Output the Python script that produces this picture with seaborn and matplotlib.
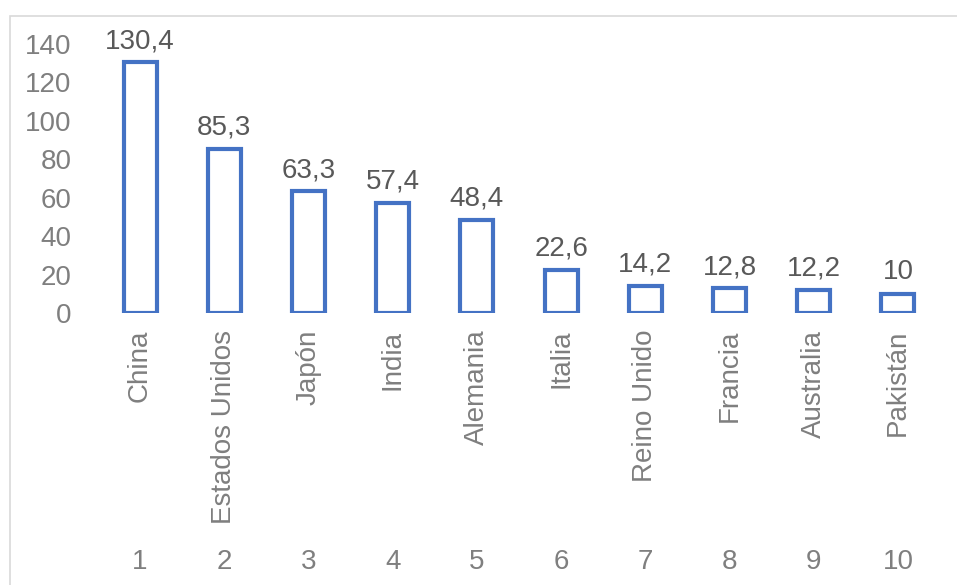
import matplotlib
matplotlib.use("Agg")
import matplotlib.pyplot as plt
import matplotlib.transforms as mtransforms
from matplotlib.patches import Rectangle
import seaborn as sns
import pandas as pd

countries = ["China", "Estados Unidos", "Japón", "India", "Alemania", "Italia",
             "Reino Unido", "Francia", "Australia", "Pakistán"]
values = [130.4, 85.3, 63.3, 57.4, 48.4, 22.6, 14.2, 12.8, 12.2, 10]
ranks = ["1", "2", "3", "4", "5", "6", "7", "8", "9", "10"]
yticks = [0, 20, 40, 60, 80, 100, 120, 140]

sns.set_theme(style="white")
plt.rcParams["font.family"] = ["Liberation Sans", "DejaVu Sans"]

W, H = 957, 585
fig = plt.figure(figsize=(W / 100, H / 100), dpi=100)
left, right, top, bottom = 98, 940, 44, 313
ax = fig.add_axes([left / W, 1 - bottom / H, (right - left) / W, (bottom - top) / H])

df = pd.DataFrame({"country": countries, "value": values})
sns.barplot(data=df, x="country", y="value", ax=ax, color="white",
            edgecolor="#4472C4", linewidth=3.0, width=0.39, saturation=1)

FS = 20
ax.set_xlim(-0.5, len(countries) - 0.5)
ax.set_ylim(0, 140)
ax.set_yticks(yticks)
ax.set_yticklabels([str(t) for t in yticks], fontsize=FS, color="#7F7F7F")
ax.set_xticks(range(len(countries)))
ax.set_xticklabels(countries, rotation=90, fontsize=FS, color="#7F7F7F",
                   ha="center", va="top")
ax.tick_params(axis="both", length=0)
ax.tick_params(axis="x", pad=12)
ax.tick_params(axis="y", pad=19)
ax.set_xlabel("")
ax.set_ylabel("")
for s in ax.spines.values():
    s.set_visible(False)
ax.grid(False)

labels = [f"{v:g}".replace(".", ",") for v in values]
ax.bar_label(ax.containers[0], labels=labels, padding=6, fontsize=FS, color="#595959")

trans = mtransforms.blended_transform_factory(ax.transData, ax.transAxes)
for i, r in enumerate(ranks):
    ax.text(i, (bottom - 562) / (bottom - top), r, transform=trans, ha="center",
            va="center", fontsize=FS, color="#7F7F7F")

fig.patches.append(Rectangle((10 / W, -0.1), 1.2, 1 - 16 / H + 0.1,
                             transform=fig.transFigure, fill=False,
                             edgecolor="#D9D9D9", linewidth=1.2))

fig.savefig("out.png", dpi=100)
